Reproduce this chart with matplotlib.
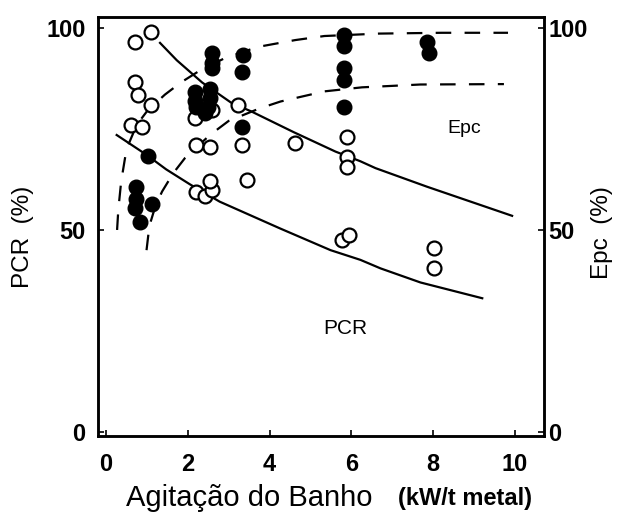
import matplotlib
matplotlib.use("Agg")
import matplotlib.pyplot as plt

# filled circles
filled_x = [0.73, 0.73, 0.71, 0.82, 1.12, 1.02,
            2.17, 2.54, 2.17, 2.54, 2.21, 2.42, 2.49,
            2.58, 2.58, 2.58,
            3.36, 3.32, 3.32,
            5.81, 5.81, 5.81, 5.81, 5.81,
            7.85, 7.89]
filled_y = [60.6, 57.7, 55.5, 52.0, 56.4, 68.3,
            84.2, 85.0, 82.0, 82.7, 80.5, 79.0, 80.4,
            93.7, 91.3, 90.1,
            93.3, 89.2, 75.6,
            98.3, 95.5, 90.0, 87.1, 80.5,
            96.6, 93.7]

# open circles
open_x = [1.11, 0.70, 0.70, 0.79, 1.11, 0.62, 0.87,
          2.17, 2.58, 2.21, 2.54, 3.23, 3.32, 3.44,
          2.21, 2.42, 2.58, 2.54,
          4.63, 5.90, 5.90, 5.90, 5.77, 5.94, 8.02, 8.02]
open_y = [99.0, 96.6, 86.7, 83.4, 80.9, 76.0, 75.6,
          77.6, 79.7, 71.0, 70.6, 80.9, 71.0, 62.4,
          59.5, 58.3, 59.9, 62.0,
          71.5, 73.1, 68.1, 65.7, 47.5, 48.8, 45.5, 40.5]

# solid curves
epc_x = [1.32, 1.73, 2.35, 3.06, 3.56, 4.59, 5.61, 6.22, 6.59, 7.85, 9.93]
epc_y = [96.3, 92.0, 86.5, 81.5, 79.3, 74.2, 69.4, 67.0, 65.3, 60.7, 53.5]
pcr_x = [0.26, 0.99, 1.47, 2.05, 2.78, 4.25, 5.49, 6.22, 6.71, 7.69, 9.20]
pcr_y = [73.5, 68.6, 65.0, 61.3, 57.0, 50.4, 45.0, 42.6, 40.5, 37.0, 33.1]

# dashed curves
dash1_x = [0.27, 0.30, 0.37, 0.50, 0.75, 1.01, 1.44, 1.83, 2.30, 2.90, 3.71,
           4.63, 5.34, 6.67, 8.20, 9.83]
dash1_y = [50.0, 55.0, 62.0, 70.0, 76.0, 79.5, 83.5, 86.5, 89.5, 92.5, 95.3,
           97.0, 98.0, 98.6, 98.8, 98.8]
dash2_x = [0.99, 1.06, 1.21, 1.37, 1.64, 1.93, 2.54, 3.00, 3.76, 4.27, 5.34,
           6.26, 7.69, 9.73]
dash2_y = [45.0, 51.0, 56.0, 59.5, 64.0, 67.8, 73.5, 77.0, 80.1, 81.8, 84.3,
           85.3, 86.0, 86.1]

fig = plt.figure(figsize=(6.22, 5.16), dpi=100)
ax = fig.add_axes([0.1576, 0.155, 0.717, 0.812])

ax.plot(epc_x, epc_y, color="black", lw=1.6, zorder=2)
ax.plot(pcr_x, pcr_y, color="black", lw=1.6, zorder=2)
ax.plot(dash1_x, dash1_y, color="black", lw=1.6, dashes=(7, 6), zorder=2)
ax.plot(dash2_x, dash2_y, color="black", lw=1.6, dashes=(7, 6), zorder=2)

ax.plot(open_x, open_y, "o", ms=10, mfc="white", mec="black", mew=1.6,
        ls="none", zorder=3)
ax.plot(filled_x, filled_y, "o", ms=10.5, mfc="black", mec="black",
        ls="none", zorder=4)

ax.text(8.75, 75.2, "Epc", fontsize=14, family="Liberation Sans",
        ha="center", va="center")
ax.text(5.84, 25.7, "PCR", fontsize=15, family="Liberation Sans",
        ha="center", va="center")

ax.set_xlim(-0.196, 10.71)
ax.set_ylim(-1, 102.7)
ax.set_xticks([0, 2, 4, 6, 8, 10])
ax.set_yticks([0, 50, 100])

tick_font = {"family": "Liberation Sans", "size": 17, "weight": "bold"}
ax.set_xticklabels(["0", "2", "4", "6", "8", "10"], fontdict=tick_font)
ax.set_yticklabels(["0", "50", "100"], fontdict=tick_font)
ax.tick_params(direction="in", length=4, width=1.2)
ax.tick_params(axis="x", pad=12)
ax.tick_params(axis="y", pad=9)

ax2 = ax.twinx()
ax2.set_ylim(-1, 102.7)
ax2.set_yticks([0, 50, 100])
ax2.set_yticklabels(["0", "50", "100"], fontdict=tick_font)
ax2.tick_params(direction="in", length=4, width=1.2, pad=3)

for a in (ax, ax2):
    for s in a.spines.values():
        s.set_linewidth(1.8)

fig.text(0.037, 0.54, "PCR  (%)", rotation=90, fontsize=17.5,
         family="Liberation Sans", ha="center", va="center")
fig.text(0.968, 0.55, "Epc  (%)", rotation=90, fontsize=17.5,
         family="Liberation Sans", ha="center", va="center")
fig.text(0.203, 0.034, "Agitação do Banho", fontsize=21,
         family="Liberation Sans", ha="left", va="center")
fig.text(0.640, 0.034, "(kW/t metal)", fontsize=17, fontweight="bold",
         family="Liberation Sans", ha="left", va="center")

fig.savefig("out.png", dpi=100)
